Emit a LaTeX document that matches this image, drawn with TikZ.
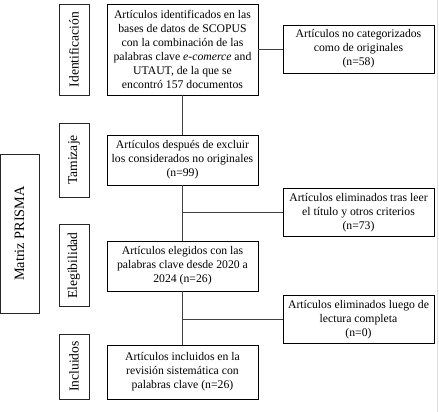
\documentclass[tikz,border=0pt]{standalone}
\usepackage{fontspec}
\setmainfont{Liberation Serif}
\usepackage{tikz}

\tikzset{
  mainbox/.style={draw=black,line width=0.8pt,align=center,minimum width=4.53cm,inner sep=1pt},
  sidebox/.style={draw=black,line width=0.8pt,align=center,minimum width=4.53cm,minimum height=1.44cm,inner sep=1pt},
  phasebox/.style={draw=black!85,line width=0.8pt,rotate=90,minimum height=0.9cm,inner sep=1pt,font=\fontsize{11.6}{13}\selectfont},
  link/.style={draw=black!75,line width=0.8pt},
}

\begin{document}
\begin{tikzpicture}[x=0.03cm,y=-0.03cm,font=\fontsize{10}{12}\selectfont]
\useasboundingbox (0,0) rectangle (439,412);
\draw[gray!25,line width=0.6pt] (437,0) -- (437,412);
% fases
\node[phasebox,minimum width=4.77cm,minimum height=1.17cm,font=\fontsize{12.2}{14}\selectfont] (matriz) at (19.5,233.5) {Matriz PRISMA};
\node[phasebox,minimum width=2.73cm] (ident) at (74,49.5) {Identificación};
\node[phasebox,minimum width=2.22cm] (tamiz) at (74,160) {Tamizaje};
\node[phasebox,minimum width=2.46cm] (elegi) at (74,265.5) {Elegibilidad};
\node[phasebox,minimum width=1.95cm] (inclu) at (74,366.5) {Incluidos};
% cajas centrales
\node[mainbox,minimum height=2.73cm] (box1) at (182.5,49.5) {Artículos identificados en las\\ bases de datos de SCOPUS\\ con la combinación de las\\ palabras clave \textit{e-comerce} and\\ UTAUT,\ de la que se\\ encontró 157 documentos};
\node[mainbox,minimum height=1.5cm] (box2) at (182.5,160) {Artículos después de excluir\\ los\ considerados no originales\\ (n=99)};
\node[mainbox,minimum height=1.5cm] (box3) at (182.5,266) {Artículos elegidos con las\\ palabras clave desde 2020 a\\ 2024 (n=26)};
\node[mainbox,minimum height=1.62cm] (box4) at (182.5,372) {Artículos incluidos en la\\ revisión sistemática con\\ palabras clave (n=26)};
% cajas laterales
\node[sidebox] (side1) at (358.5,49) {Artículos no\ categorizados\\ como de originales\\ (n=58)};
\node[sidebox] (side2) at (358.5,212.5) {Artículos eliminados tras leer\\ el título y otros criterios\\ (n=73)};
\node[sidebox] (side3) at (358.5,319.5) {Artículos eliminados\ luego de\\ lectura completa\\ (n=0)};
% conectores
\draw[link] (box1.south) -- (box2.north);
\draw[link] (box2.south) -- (box3.north);
\draw[link] (box3.south) -- (box4.north);
\draw[link] (box1.east |- side1.west) -- (side1.west);
\draw[link] (box1.south |- side2.west) -- (side2.west);
\draw[link] (box1.south |- side3.west) -- (side3.west);
\end{tikzpicture}
\end{document}
